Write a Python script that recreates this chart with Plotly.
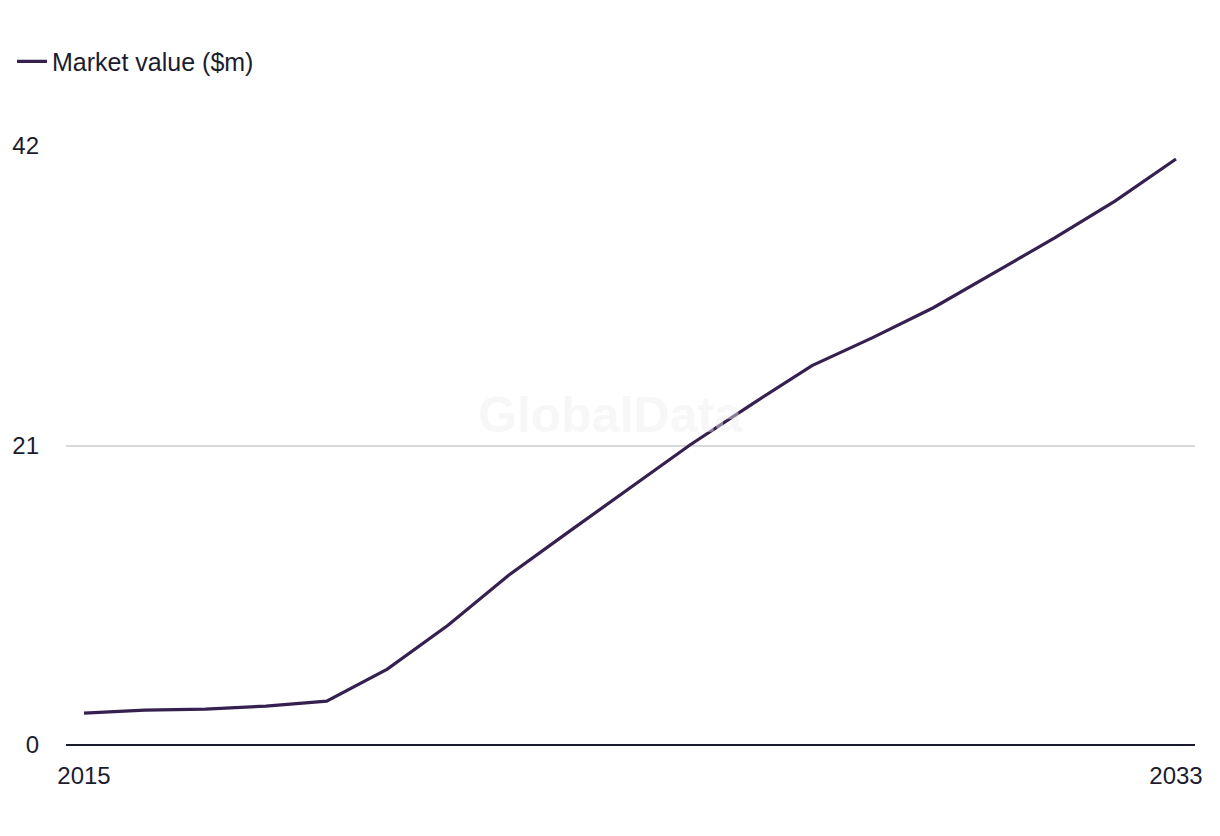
import plotly.graph_objects as go

years = list(range(2015, 2034))
market_value = [2.24, 2.45, 2.52, 2.73, 3.08, 5.32, 8.4, 11.9, 14.98, 18.0,
                21.07, 23.87, 26.6, 28.56, 30.66, 33.1, 35.56, 38.15, 41.09]
series_name = "Market value ($m)"
x_ticks = [2015, 2033]
y_ticks = [0, 21, 42]

# page has an 8px body margin, so the figure is sized to fit inside the window
OFF = 8
W, H = 1220 - 2 * OFF, 836 - 2 * OFF
plot_left, plot_right, plot_top, plot_bottom = 66, 1195, 145.5, 745.5
L = plot_left - OFF
R = W - (plot_right - OFF)
T = plot_top - OFF
B = H - (plot_bottom - OFF)
pw, ph = W - L - R, H - T - B

fig = go.Figure()
fig.add_trace(go.Scatter(
    x=years, y=market_value, mode="lines", name=series_name,
    line=dict(color="#35204f", width=3.2),
))

font_family = "Liberation Sans, Arial, sans-serif"
text_color = "#1c1c2e"
fig.update_layout(
    width=W, height=H,
    margin=dict(l=L, r=R, t=T, b=B, pad=0, autoexpand=False),
    plot_bgcolor="white", paper_bgcolor="white",
    font=dict(family=font_family, size=24, color=text_color),
    showlegend=True,
    legend=dict(
        orientation="h", x=-54 / pw, xanchor="left",
        y=1 + (plot_top - 61) / ph, yanchor="middle",
        font=dict(size=25, color=text_color),
        bgcolor="rgba(0,0,0,0)",
    ),
    xaxis=dict(
        range=[2015 - 18 / 60.67, 2033 + 19 / 60.67],
        tickmode="array", tickvals=x_ticks, ticktext=[str(v) for v in x_ticks],
        showgrid=False, zeroline=False, showline=False, automargin=False,
        ticks="", ticklabelstandoff=14,
        tickfont=dict(size=24, color=text_color),
    ),
    yaxis=dict(
        range=[0, 42],
        tickmode="array", tickvals=y_ticks, ticktext=[str(v) for v in y_ticks],
        showgrid=True, gridcolor="#d9d9d9", gridwidth=1.5,
        zeroline=True, zerolinecolor="#1a1a2e", zerolinewidth=2,
        showline=False, automargin=False, ticks="", ticklabelstandoff=26,
        tickfont=dict(size=24, color=text_color),
    ),
    annotations=[dict(
        text="<b>GlobalData</b>", x=(610 - plot_left) / pw,
        y=(plot_bottom - 415) / ph, xref="paper", yref="paper",
        yanchor="middle", xanchor="center",
        showarrow=False, font=dict(size=50, color="rgba(238,238,238,0.45)",
                                   family=font_family),
    )],
)

fig.write_html("out.html")
